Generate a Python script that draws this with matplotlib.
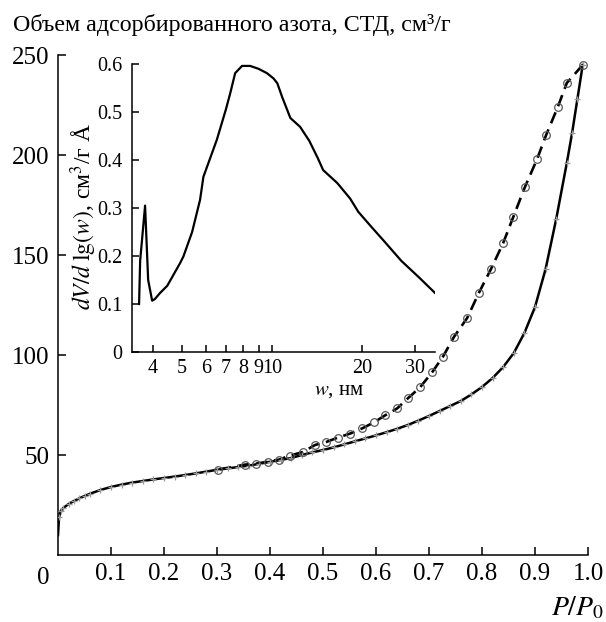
import matplotlib
matplotlib.use("Agg")
import matplotlib.pyplot as plt

plt.rcParams['font.family'] = ['Liberation Serif', 'DejaVu Serif']
plt.rcParams['mathtext.fontset'] = 'stix'

# Nitrogen adsorption branch (P/P0, cm3/g STP)
ads_p = [0.0, 0.002, 0.005, 0.01, 0.02, 0.03, 0.04, 0.05, 0.06, 0.08, 0.10,
         0.12, 0.14, 0.16, 0.18, 0.20, 0.22, 0.24, 0.26, 0.28, 0.30, 0.32,
         0.34, 0.36, 0.38, 0.40, 0.42, 0.44, 0.46, 0.48, 0.50, 0.52, 0.54,
         0.56, 0.58, 0.60, 0.62, 0.64, 0.66, 0.68, 0.70, 0.72, 0.74, 0.76,
         0.78, 0.80, 0.82, 0.84, 0.86, 0.88, 0.90, 0.92, 0.94, 0.96, 0.97,
         0.98, 0.99]
ads_v = [10, 19, 22, 23.5, 25.5, 27, 28.3, 29.5, 30.6, 32.5, 34,
         35.2, 36.2, 37, 37.8, 38.5, 39.2, 40, 40.8, 41.7, 42.6, 43.3,
         44.0, 44.7, 45.6, 46.6, 47.5, 48.5, 50.0, 51.3, 52.5, 53.8, 55.3,
         56.8, 58.3, 59.8, 61.4, 63.1, 65.0, 67.2, 69.5, 72.0, 74.5, 77.0,
         80.3, 84.0, 88.5, 94.0, 101.0, 111, 124, 143, 168, 196, 211,
         228, 245]

# Desorption branch
des_p = [0.990, 0.960, 0.943, 0.921, 0.904, 0.881, 0.859, 0.840, 0.817,
         0.794, 0.772, 0.747, 0.726, 0.706, 0.683, 0.660, 0.640, 0.617,
         0.596, 0.574, 0.551, 0.528, 0.506, 0.485, 0.462, 0.438, 0.417,
         0.397, 0.374, 0.353, 0.302]
des_v = [245, 236, 224, 210, 198, 184, 169, 156, 143,
         131, 118.5, 109, 99, 91.4, 83.8, 78.3, 73.3, 69.8,
         66.3, 63.3, 60.7, 58.7, 56.5, 55.0, 51.5, 49.7, 47.7,
         46.7, 45.7, 45.2, 42.7]

# Pore size distribution (w in nm, dV/dlg(w))
psd_w = [3.59, 3.62, 3.76, 3.85, 3.97, 4.05, 4.22, 4.46, 4.92, 5.05, 5.4,
         5.74, 5.89, 6.53, 7.0, 7.24, 7.52, 7.93, 8.44, 9.0, 9.6, 10.1,
         10.4, 10.8, 11.5, 12.4, 13.3, 14.2, 14.8, 16.5, 18.2, 19.4, 21.5,
         23.5, 27.0, 31.0, 35.0]
psd_v = [0.10, 0.19, 0.305, 0.15, 0.107, 0.11, 0.123, 0.138, 0.185, 0.199,
         0.25, 0.317, 0.365, 0.442, 0.505, 0.539, 0.581, 0.596, 0.596, 0.59,
         0.581, 0.57, 0.56, 0.531, 0.4875, 0.469, 0.44, 0.404, 0.379, 0.352,
         0.32, 0.292, 0.26, 0.233, 0.19, 0.155, 0.123]

main_yticks = [50, 100, 150, 200, 250]
main_xticks = [0.1, 0.2, 0.3, 0.4, 0.5, 0.6, 0.7, 0.8, 0.9, 1.0]
inset_xticks = [4, 5, 6, 7, 8, 9, 10, 20, 30]
inset_yticks = [0, 0.1, 0.2, 0.3, 0.4, 0.5, 0.6]

W, H = 606, 622
fig = plt.figure(figsize=(W / 100, H / 100), dpi=100)

def rect(l, t, r, b):
    return [l / W, 1 - b / H, (r - l) / W, (b - t) / H]

ax = fig.add_axes(rect(58, 55, 588, 555))
ax.plot(ads_p, ads_v, color='black', lw=1.8, zorder=3)
ax.plot(ads_p[1:], ads_v[1:], ls='none', marker='+', ms=5, mew=0.9,
        color='0.6', zorder=4)
ax.plot(des_p, des_v, color='black', lw=1.9, dashes=(4.5, 2.5), zorder=3)
ax.plot(des_p, des_v, ls='none', marker='o', ms=5.5, mew=0.9,
        mec='0.35', mfc='none', zorder=4)
ax.set_xlim(0, 1.0)
ax.set_ylim(0, 250)
ax.set_xticks(main_xticks)
ax.set_xticklabels([f"{t:.1f}" for t in main_xticks])
ax.set_yticks(main_yticks)
for s in ('top', 'right'):
    ax.spines[s].set_visible(False)
for s in ('left', 'bottom'):
    ax.spines[s].set_linewidth(1.1)
ax.tick_params(direction='in', length=6, width=1.1, labelsize=18, pad=6)

fig.text(43 / W, 1 - 584 / H, "0", fontsize=18, ha='center', va='baseline')
fig.text(604 / W, 1 - 615 / H, "$P/P_0$", fontsize=20, ha='right',
         va='baseline')
fig.text(13 / W, 1 - 31 / H, "Объем адсорбированного азота, СТД, см³/г",
         fontsize=17.3, ha='left', va='baseline')

ins = fig.add_axes(rect(132, 64, 435, 352))
ins.plot(psd_w, psd_v, color='black', lw=1.6)
ins.set_xscale('log')
ins.set_xlim(3.4, 35)
ins.set_ylim(0, 0.6)
ins.set_xticks(inset_xticks)
ins.set_xticklabels([str(t) for t in inset_xticks])
ins.xaxis.set_minor_locator(matplotlib.ticker.NullLocator())
ins.set_yticks(inset_yticks)
ins.set_yticklabels(["0"] + [f"{t:.1f}" for t in inset_yticks[1:]])
for s in ('top', 'right'):
    ins.spines[s].set_visible(False)
for s in ('left', 'bottom'):
    ins.spines[s].set_linewidth(1.1)
ins.patch.set_alpha(0)
ins.tick_params(direction='in', length=5, width=1.1, labelsize=14.5, pad=5)
ins.tick_params(axis='y', pad=7)

fig.text(84 / W, 1 - 216 / H, "$dV/d\\;\\mathrm{lg}(w)$, см$^3$/г Å",
         fontsize=17, rotation=90, ha='center', va='center')
fig.text(339 / W, 1 - 390 / H, "$w$, нм", fontsize=15, ha='center',
         va='center')

fig.savefig("out.png", dpi=100)
